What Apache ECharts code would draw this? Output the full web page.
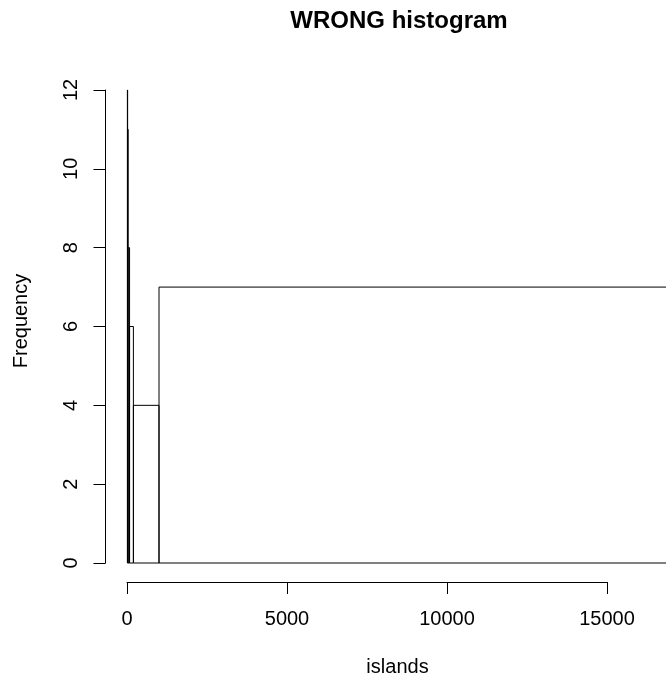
<!DOCTYPE html>
<html>
<head>
<meta charset="utf-8">
<script src="https://cdn.jsdelivr.net/npm/echarts@6/dist/echarts.min.js"></script>
<style>
html,body{margin:0;padding:0;background:#fff;}
#chart{width:666px;height:679px;}
</style>
</head>
<body>
<div id="chart"></div>
<script>
// Histogram of islands with unequal breaks (counts plotted as frequency)
const breaks = [12, 20, 36, 80, 200, 1000, 17000];
const counts = [12, 11, 8, 6, 4, 7];
const xTicks = [0, 5000, 10000, 15000];
const yTicks = [0, 2, 4, 6, 8, 10, 12];

const FONT = '"Liberation Sans", Arial, Helvetica, sans-serif';

const barData = counts.map((c, i) => [breaks[i], breaks[i + 1], c]);

const chart = echarts.init(document.getElementById('chart'), null, {renderer: 'canvas'});
chart.setOption({
  animation: false,
  backgroundColor: '#ffffff',
  grid: {left: 127, top: 90, width: 480, height: 473, containLabel: false},
  xAxis: {
    type: 'value',
    min: xTicks[0], max: xTicks[xTicks.length - 1], interval: 5000,
    offset: 19,
    axisLine: {show: true, onZero: false, lineStyle: {color: '#000', width: 1}},
    axisTick: {show: true, inside: false, length: 12, lineStyle: {color: '#000', width: 1}},
    axisLabel: {show: true, margin: 27, color: '#000', fontSize: 20, fontFamily: FONT,
      showMinLabel: true, showMaxLabel: true, formatter: function (v) { return String(v); }},
    splitLine: {show: false}
  },
  yAxis: {
    type: 'value',
    min: yTicks[0], max: yTicks[yTicks.length - 1], interval: 2,
    offset: 21.5,
    axisLine: {show: true, onZero: false, lineStyle: {color: '#000', width: 1}},
    axisTick: {show: true, inside: false, length: 12, lineStyle: {color: '#000', width: 1}},
    axisLabel: {show: true, rotate: 90, margin: 24, color: '#000', fontSize: 20, fontFamily: FONT,
      showMinLabel: true, showMaxLabel: true, formatter: function (v) { return String(v); }},
    splitLine: {show: false}
  },
  series: [{
    type: 'custom',
    clip: false,
    data: barData,
    renderItem: function (params, api) {
      const p0 = api.coord([api.value(0), 0]);
      const p1 = api.coord([api.value(1), api.value(2)]);
      return {
        type: 'rect',
        shape: {x: p0[0], y: p1[1], width: p1[0] - p0[0], height: p0[1] - p1[1]},
        style: {fill: 'none', stroke: '#000', lineWidth: 1}
      };
    }
  }],
  graphic: [
    {type: 'text', x: 399, y: 21,
     style: {text: 'WRONG histogram', fontFamily: FONT, fontSize: 24, fontWeight: 'bold', fill: '#000', align: 'center', verticalAlign: 'middle'}},
    {type: 'text', x: 397.5, y: 667,
     style: {text: 'islands', fontFamily: FONT, fontSize: 20, fill: '#000', align: 'center', verticalAlign: 'middle'}},
    {type: 'text', x: 21, y: 321, rotation: Math.PI / 2,
     style: {text: 'Frequency', fontFamily: FONT, fontSize: 20, fill: '#000', align: 'center', verticalAlign: 'middle'}}
  ]
});
</script>
</body>
</html>
